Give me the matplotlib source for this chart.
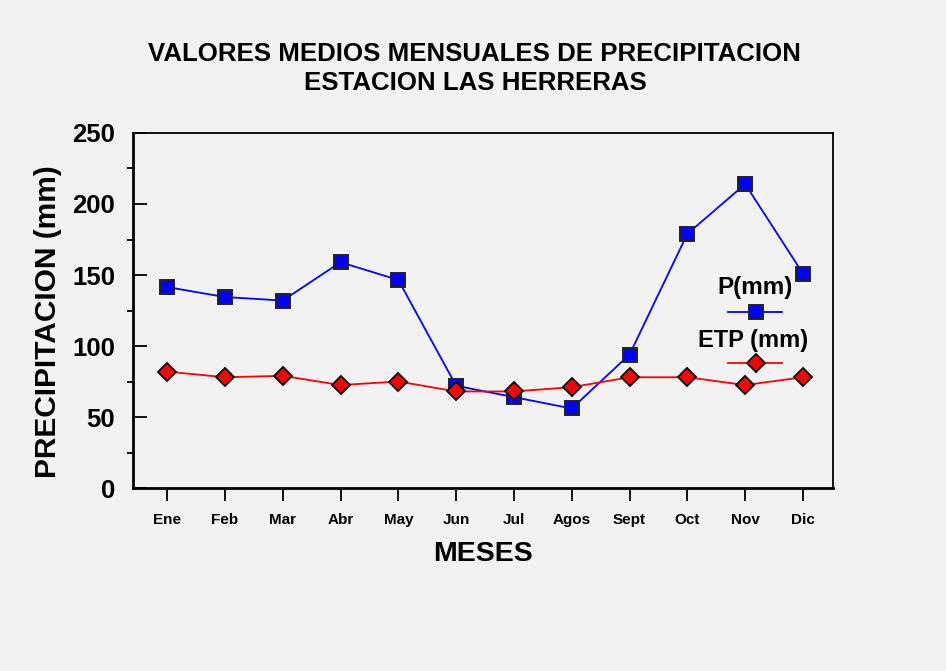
import matplotlib
matplotlib.use("Agg")
import matplotlib.pyplot as plt
from matplotlib.lines import Line2D

plt.rcParams["font.family"] = ["Liberation Sans", "DejaVu Sans"]

meses = ["Ene", "Feb", "Mar", "Abr", "May", "Jun", "Jul", "Agos", "Sept", "Oct", "Nov", "Dic"]
p_mm = [141.5, 134.5, 132, 159, 146.5, 72, 64, 56, 94, 179, 214, 151]
etp_mm = [82, 78, 79, 72.5, 75, 68, 68, 71, 78, 78, 72.5, 78]

fondo = "#f2f2f2"
fig = plt.figure(figsize=(9.46, 6.71), dpi=100, facecolor=fondo)
ax = fig.add_axes([0.1406, 0.2727, 0.74, 0.5291], facecolor=fondo)

x = list(range(len(meses)))
ax.plot(x, p_mm, color="#0000ff", lw=1.3, marker="s", ms=10.5,
        mfc="#0000ff", mec="#222222", mew=1.4, zorder=3)
ax.plot(x, etp_mm, color="#ff0000", lw=1.3, marker="D", ms=9,
        mfc="#ff0000", mec="#111111", mew=1.4, zorder=4)

ax.set_xlim(-0.59, 11.52)
ax.set_ylim(0, 250)
ax.set_yticks(range(0, 251, 50))
ax.set_yticks(range(25, 250, 50), minor=True)
ax.set_xticks(x)
ax.set_xticklabels(meses, fontsize=11, fontweight="bold")
for lab in ax.get_yticklabels():
    lab.set_fontsize(18.5)
    lab.set_fontweight("bold")

ax.tick_params(axis="y", which="major", direction="in", length=10, width=1.3, pad=13)
ax.tick_params(axis="y", which="minor", direction="out", length=4, width=1.3)
ax.tick_params(axis="x", direction="out", length=9, width=1.3, pad=9)
ax.tick_params(top=False, right=False)
for s in ["left", "bottom"]:
    ax.spines[s].set_linewidth(2)
for s in ["top", "right"]:
    ax.spines[s].set_linewidth(1.3)

ax.set_xlabel("MESES", fontsize=20.5, fontweight="bold", labelpad=10)
ax.set_ylabel("PRECIPITACION (mm)", fontsize=21.5, fontweight="bold")
ax.yaxis.set_label_coords(-0.102, 0.47)

fig.text(0.502, 0.898, "VALORES MEDIOS MENSUALES DE PRECIPITACION\nESTACION LAS HERRERAS",
         ha="center", va="center", fontsize=18.6, fontweight="bold", linespacing=1.3)

# leyenda con el texto encima de cada muestra
ax.text(0.889, 0.565, "P(mm)", transform=ax.transAxes, ha="center", va="center",
        fontsize=17.5, fontweight="bold")
ax.add_line(Line2D([0.85, 0.927], [0.497, 0.497], transform=ax.transAxes, color="#0000ff",
                   lw=1.3))
ax.add_line(Line2D([0.89], [0.497], transform=ax.transAxes, marker="s", ms=10.5,
                   mfc="#0000ff", mec="#222222", mew=1.4))
ax.text(0.886, 0.415, "ETP (mm)", transform=ax.transAxes, ha="center", va="center",
        fontsize=17, fontweight="bold")
ax.add_line(Line2D([0.85, 0.927], [0.352, 0.352], transform=ax.transAxes, color="#ff0000",
                   lw=1.3))
ax.add_line(Line2D([0.89], [0.352], transform=ax.transAxes, marker="D", ms=9.5,
                   mfc="#ff0000", mec="#111111", mew=1.4))

fig.savefig("out.png", dpi=100, facecolor=fondo)
